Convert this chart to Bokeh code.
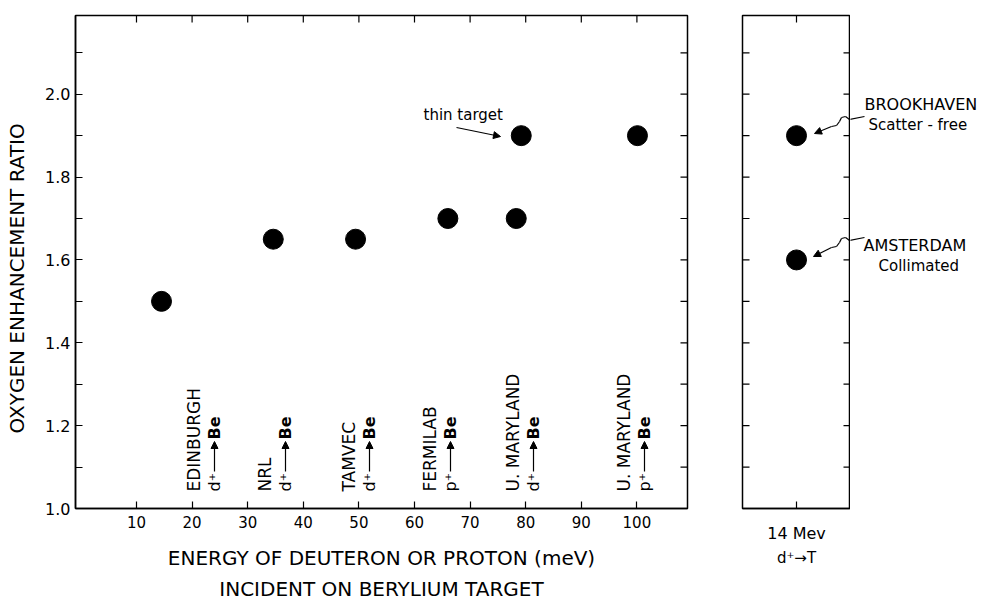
from bokeh.plotting import figure
from bokeh.layouts import row
from bokeh.models import (Range1d, FixedTicker, Label, Arrow,
                          NormalHead, PrintfTickFormatter)
from bokeh.embed import file_html
from bokeh.resources import INLINE

# ---------------- data ----------------
energy_mev = [14.5, 34.6, 49.4, 66.0, 78.3, 79.2, 100.1]
oer_values = [1.50, 1.65, 1.65, 1.70, 1.70, 1.90, 1.90]

source_names = ["EDINBURGH", "NRL", "TAMVEC", "FERMILAB", "U. MARYLAND", "U. MARYLAND"]
source_particles = ["d\u207a", "d\u207a", "d\u207a", "p\u207a", "d\u207a", "p\u207a"]

x_ticks = [10, 20, 30, 40, 50, 60, 70, 80, 90, 100]
y_major_ticks = [1.0, 1.2, 1.4, 1.6, 1.8, 2.0]
y_minor_ticks = [1.1, 1.3, 1.5, 1.7, 1.9, 2.1]
y_all_ticks = [1.1, 1.2, 1.3, 1.4, 1.5, 1.6, 1.7, 1.8, 1.9, 2.0, 2.1]

dt_sources = ["BROOKHAVEN", "AMSTERDAM"]
dt_notes = ["Scatter - free", "Collimated"]
dt_position = [1.0, 1.0]
dt_oer = [1.90, 1.60]
dt_tick_label = "14 Mev"
dt_reaction = "d\u207a\u2192T"

# ---------------- layout constants (window pixels) ----------------
FONT = "DejaVu Sans"
FRAME_TOP, FRAME_H = 15, 493
Y0, Y1 = 1.0, 2.19
X0, X1 = -0.97, 109.1
RX0, RX1 = 0.0, 2.0
M_LEFT, M_W = 75, 612
R_LEFT, R_W = 742, 108
A_W = 128
BOTTOM_BORDER = 92
TICK = 7

YPX = (Y1 - Y0) / FRAME_H          # data per pixel, y
XPX = (X1 - X0) / M_W              # data per pixel, main x
RXPX = (RX1 - RX0) / R_W           # data per pixel, right panel x


def py(pix):  # window y pixel -> data y
    return Y0 + (FRAME_TOP + FRAME_H - pix) * YPX


def mx(pix):  # window x pixel -> main data x
    return X0 + (pix - M_LEFT) * XPX


def rx(pix):  # window x pixel -> right-panel data x
    return RX0 + (pix - R_LEFT) * RXPX


def style_axis(ax, ticker, size="15px", standoff=6, minor=False):
    ax.ticker = ticker
    ax.axis_line_color = "black"
    ax.axis_line_width = 1.5
    ax.major_tick_in = TICK
    ax.major_tick_out = 0
    ax.major_tick_line_width = 1.2
    ax.minor_tick_in = TICK if minor else 0
    ax.minor_tick_out = 0
    ax.minor_tick_line_width = 1.2
    ax.major_label_standoff = standoff
    ax.major_label_text_font = FONT
    ax.major_label_text_color = "black"
    ax.major_label_text_font_size = size
    ax.axis_label_text_font = FONT
    ax.axis_label_text_font_style = "normal"
    ax.axis_label_text_color = "black"


def inner_ticks(p, xs=None, x_edge=None, x_len=0.0, ys=None, y_edge=None, y_len=0.0):
    """Inward tick marks along a frame edge, placed from the tick arrays."""
    if xs is not None:
        p.segment(x0=xs, y0=[y_edge] * len(xs), x1=xs, y1=[y_edge + y_len] * len(xs),
                  line_color="black", line_width=1.2)
    if ys is not None:
        p.segment(x0=[x_edge] * len(ys), y0=ys, x1=[x_edge + x_len] * len(ys), y1=ys,
                  line_color="black", line_width=1.2)


def lab(p, x, y, text, size="16px", align="left", baseline="middle",
        angle=0, style="normal"):
    p.add_layout(Label(x=x, y=y, text=text, text_font=FONT,
                       text_font_size=size, text_align=align,
                       text_baseline=baseline, angle=angle, angle_units="deg",
                       text_font_style=style, text_color="black"))


def seg(p, pts, head=False):
    for i in range(len(pts) - 1):
        last = head and i == len(pts) - 2
        p.add_layout(Arrow(x_start=pts[i][0], y_start=pts[i][1],
                           x_end=pts[i + 1][0], y_end=pts[i + 1][1],
                           line_color="black", line_width=1.2,
                           end=NormalHead(size=7, fill_color="black",
                                          line_color="black") if last else None))


# ---------------- main panel ----------------
p1 = figure(frame_width=M_W, frame_height=FRAME_H,
            x_range=Range1d(X0, X1), y_range=Range1d(Y0, Y1),
            output_backend="svg", toolbar_location=None,
            min_border_left=M_LEFT, min_border_right=5,
            min_border_top=FRAME_TOP, min_border_bottom=BOTTOM_BORDER,
            background_fill_color="white", border_fill_color="white")
p1.grid.visible = False
p1.outline_line_color = "black"
p1.outline_line_width = 1.5

xa = p1.xaxis[0]
style_axis(xa, FixedTicker(ticks=x_ticks), size="15px", standoff=7)
xa.formatter = PrintfTickFormatter(format="%d")
xa.axis_label = "ENERGY OF DEUTERON OR PROTON (meV)\nINCIDENT ON BERYLIUM TARGET"
xa.axis_label_text_font_size = "20px"
xa.axis_label_text_line_height = 1.3
xa.axis_label_standoff = 15

ya = p1.yaxis[0]
style_axis(ya, FixedTicker(ticks=y_major_ticks, minor_ticks=y_minor_ticks),
           size="16px", standoff=5, minor=True)
ya.formatter = PrintfTickFormatter(format="%.1f")
ya.axis_label = "OXYGEN  ENHANCEMENT  RATIO\u2003"
ya.axis_label_text_font_size = "20px"
ya.axis_label_standoff = 13

# inward ticks on top and right edges
inner_ticks(p1, xs=x_ticks, y_edge=Y1, y_len=-TICK * YPX)
inner_ticks(p1, ys=y_all_ticks, x_edge=X1, x_len=-TICK * XPX)

p1.scatter(energy_mev, oer_values, marker="circle", size=20,
           fill_color="black", line_color="black")

# vertical source labels
label_px = [193, 264, 348, 429, 512, 623]
for name, part, lx in zip(source_names, source_particles, label_px):
    lab(p1, mx(lx), py(491), name, size="17px", angle=90)
    cx = mx(lx + 21)
    lab(p1, cx, py(491), part, size="16px", angle=90)
    seg(p1, [(cx, py(471)), (cx, py(441))], head=True)
    lab(p1, cx, py(439), "Be", size="16px", angle=90, style="bold")

# thin target note
lab(p1, mx(423), py(114), "thin target", size="15px")
seg(p1, [(mx(456), py(127)), (mx(500), py(136))], head=True)

# ---------------- right panel (14 MeV d-T) ----------------
p2 = figure(frame_width=R_W, frame_height=FRAME_H,
            x_range=Range1d(RX0, RX1), y_range=Range1d(Y0, Y1),
            y_axis_type=None,
            output_backend="svg", toolbar_location=None,
            min_border_left=R_LEFT - (M_LEFT + M_W + 5), min_border_right=0,
            min_border_top=FRAME_TOP, min_border_bottom=BOTTOM_BORDER,
            background_fill_color="white", border_fill_color="white")
p2.grid.visible = False
p2.outline_line_color = "black"
p2.outline_line_width = 1.5
xb = p2.xaxis[0]
style_axis(xb, FixedTicker(ticks=dt_position[:1]), size="16px", standoff=15)
xb.major_label_overrides = {dt_position[0]: dt_tick_label}
xb.axis_label = dt_reaction
xb.axis_label_text_font_size = "15px"
xb.axis_label_standoff = 3

inner_ticks(p2, ys=y_all_ticks, x_edge=RX0, x_len=TICK * RXPX)
inner_ticks(p2, ys=y_all_ticks, x_edge=RX1, x_len=-TICK * RXPX)
inner_ticks(p2, xs=dt_position[:1], y_edge=Y1, y_len=-TICK * YPX)

p2.scatter(dt_position, dt_oer, marker="circle", size=20,
           fill_color="black", line_color="black")

# ---------------- annotation strip (pixel coordinates) ----------------
A_LEFT = R_LEFT + R_W
p3 = figure(frame_width=A_W, frame_height=FRAME_H,
            x_range=Range1d(A_LEFT, A_LEFT + A_W),
            y_range=Range1d(FRAME_TOP + FRAME_H, FRAME_TOP),
            x_axis_type=None, y_axis_type=None,
            output_backend="svg", toolbar_location=None,
            min_border_left=0, min_border_right=0,
            min_border_top=FRAME_TOP, min_border_bottom=BOTTOM_BORDER,
            background_fill_color="white", border_fill_color="white")
p3.grid.visible = False
p3.outline_line_color = None

name_px = [(864, 104), (863, 245)]
note_px = [(868, 124), (878, 265)]
for s, n, (nx, ny), (tx, ty) in zip(dt_sources, dt_notes, name_px, note_px):
    lab(p3, nx, ny, s, size="16px")
    lab(p3, tx, ty, n, size="15px")

squiggles = [
    [(864, 116), (849, 119), (845, 116), (841, 117), (839, 121), (836, 125), (831, 126), (814, 133)],
    [(864, 237), (849, 240), (845, 237), (841, 238), (839, 242), (836, 246), (831, 247), (813, 256)],
]
for pts in squiggles:
    seg(p2, [(rx(a), py(b)) for a, b in pts], head=True)
    seg(p3, pts, head=True)

layout = row(p1, p2, p3)
open("out.html", "w").write(file_html(layout, INLINE))
